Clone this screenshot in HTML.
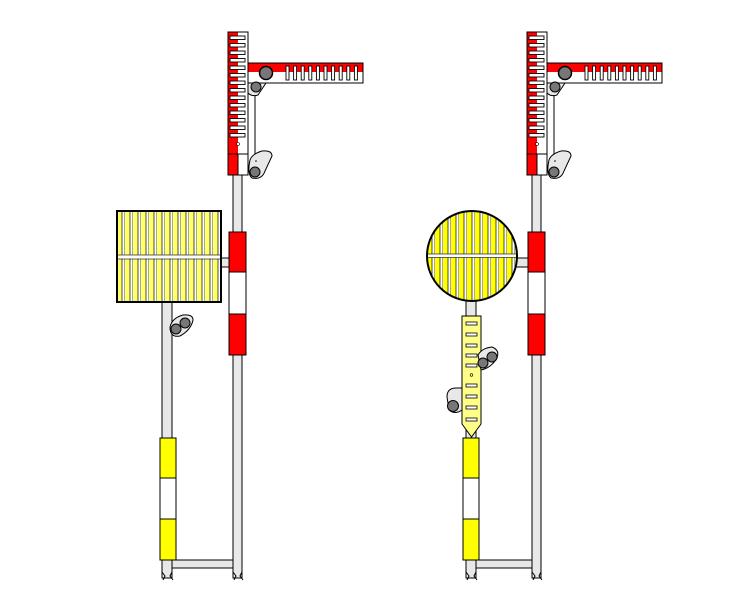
<!DOCTYPE html>
<html><head><meta charset="utf-8"><style>body{margin:0;background:#fff}svg{display:block}</style></head>
<body>
<svg width="750" height="591" viewBox="0 0 750 591" xmlns="http://www.w3.org/2000/svg">
<defs>
<pattern id="ystripe" x="117" y="0" width="8" height="10" patternUnits="userSpaceOnUse">
<rect x="0" y="0" width="8" height="10" fill="#ffff66"/>
<rect x="5" y="0" width="3" height="10" fill="#fff"/>
<line x1="5" y1="0" x2="5" y2="10" stroke="#000" stroke-width="0.7"/>
<line x1="8" y1="0" x2="8" y2="10" stroke="#000" stroke-width="0.7"/>
</pattern>
<pattern id="ystripe2" x="427" y="0" width="8" height="10" patternUnits="userSpaceOnUse">
<rect x="0" y="0" width="8" height="10" fill="#ffff00"/>
<rect x="5" y="0" width="3" height="10" fill="#fff"/>
<line x1="5" y1="0" x2="5" y2="10" stroke="#000" stroke-width="0.7"/>
<line x1="8" y1="0" x2="8" y2="10" stroke="#000" stroke-width="0.7"/>
</pattern>
<clipPath id="circ"><circle cx="472" cy="256" r="45"/></clipPath>
<g id="top">
<rect x="233" y="175" width="9" height="403" fill="#e8e8e8" stroke="#000"/>
<path d="M233 572 l3 4 -2 4 M242 572 l-2 4 3 4" stroke="#000" fill="none"/>
<rect x="228" y="32" width="20" height="143" fill="#fff" stroke="#000"/>
<rect x="228" y="32" width="10" height="143" fill="#f00"/>
<rect x="228" y="32" width="20" height="143" fill="none" stroke="#000"/>
<g fill="#fff" stroke="#000" stroke-width="0.9">
<rect x="230" y="36" width="15" height="3.5"/><rect x="230" y="43.5" width="15" height="3.5"/>
<rect x="230" y="51" width="15" height="3.5"/><rect x="230" y="58.5" width="15" height="3.5"/>
<rect x="230" y="66" width="15" height="3.5"/><rect x="230" y="73.5" width="15" height="3.5"/>
<rect x="230" y="81" width="15" height="3.5"/><rect x="230" y="88.5" width="15" height="3.5"/>
<rect x="230" y="96" width="15" height="3.5"/><rect x="230" y="103.5" width="15" height="3.5"/>
<rect x="230" y="111" width="15" height="3.5"/><rect x="230" y="118.5" width="15" height="3.5"/>
<rect x="230" y="126" width="15" height="3.5"/><rect x="230" y="133.5" width="15" height="3.5"/>
</g>
<line x1="228" y1="154" x2="248" y2="154" stroke="#000"/>
<line x1="238" y1="154" x2="238" y2="175" stroke="#000"/>
<circle cx="238" cy="144" r="1.5" fill="#fff" stroke="#000" stroke-width="0.6"/>
<line x1="255" y1="90" x2="255" y2="155" stroke="#000"/>
<rect x="248" y="63" width="115" height="20" fill="#fff" stroke="#000"/>
<rect x="248" y="63" width="115" height="9" fill="#f00"/>
<rect x="248" y="63" width="115" height="20" fill="none" stroke="#000"/>
<g fill="#fff" stroke="#000" stroke-width="0.9">
<rect x="286" y="66" width="3" height="14"/><rect x="293.6" y="66" width="3" height="14"/>
<rect x="301.2" y="66" width="3" height="14"/><rect x="308.8" y="66" width="3" height="14"/>
<rect x="316.4" y="66" width="3" height="14"/><rect x="324" y="66" width="3" height="14"/>
<rect x="331.6" y="66" width="3" height="14"/><rect x="339.2" y="66" width="3" height="14"/>
<rect x="346.8" y="66" width="3" height="14"/><rect x="354.4" y="66" width="3" height="14"/>
</g>
<path d="M248 83 L248 93 Q252 97 258 95 L266 83 Z" fill="#e8e8e8" stroke="#000"/>
<circle cx="256" cy="87" r="5" fill="#777" stroke="#000"/>
<circle cx="266" cy="73" r="6.5" fill="#777" stroke="#000" stroke-width="1.5"/>
<path d="M250 160 Q252 154 262 151 Q272 150 272 156 L265 171 Q262 180 252 178 Q247 174 250 160 Z" fill="#e8e8e8" stroke="#000"/>
<circle cx="255" cy="172" r="5" fill="#777" stroke="#000"/>
<circle cx="256" cy="161" r="0.8" fill="#000"/>
<rect x="229" y="232" width="17" height="123" fill="#fff" stroke="#000"/>
<rect x="229" y="232" width="17" height="40" fill="#f00" stroke="#000"/>
<rect x="229" y="314" width="17" height="41" fill="#f00" stroke="#000"/>
</g>
</defs>

<rect x="162" y="300" width="10" height="278" fill="#e8e8e8" stroke="#000"/>
<path d="M162 572 l3 4 -2 4 M172 572 l-2 4 3 4" stroke="#000" fill="none"/>
<rect x="172" y="560" width="61" height="8" fill="#e8e8e8" stroke="#000"/>
<rect x="220" y="258" width="10" height="9" fill="#e8e8e8" stroke="#000"/>
<use href="#top"/>
<rect x="117" y="211" width="104" height="91" fill="url(#ystripe)"/>
<rect x="117" y="255" width="104" height="4" fill="#fff" stroke="#000" stroke-width="0.6"/>
<rect x="117" y="211" width="104" height="91" fill="none" stroke="#000" stroke-width="2"/>
<path d="M170 327 Q172 318 183 315 Q193 314 193 320 Q191 330 180 336 Q170 338 170 327Z" fill="#e8e8e8" stroke="#000"/>
<circle cx="176" cy="329" r="5" fill="#777" stroke="#000"/>
<circle cx="185" cy="323" r="5" fill="#777" stroke="#000"/>
<rect x="160" y="438" width="16" height="122" fill="#fff" stroke="#000"/>
<rect x="160" y="438" width="16" height="40" fill="#ff0" stroke="#000"/>
<rect x="160" y="519" width="16" height="41" fill="#ff0" stroke="#000"/>

<rect x="466" y="300" width="10" height="278" fill="#e8e8e8" stroke="#000"/>
<path d="M466 572 l3 4 -2 4 M476 572 l-2 4 3 4" stroke="#000" fill="none"/>
<rect x="476" y="560" width="56" height="8" fill="#e8e8e8" stroke="#000"/>
<rect x="516" y="258" width="14" height="9" fill="#e8e8e8" stroke="#000"/>
<use href="#top" transform="translate(299,0)"/>
<g clip-path="url(#circ)">
<rect x="427" y="211" width="90" height="90" fill="url(#ystripe2)"/>
<rect x="427" y="254" width="90" height="3.5" fill="#fff" stroke="#000" stroke-width="0.6"/>
</g>
<circle cx="472" cy="256" r="45" fill="none" stroke="#000" stroke-width="2"/>
<path d="M462 316 L481 316 L481 424 L471.5 437 L462 424 Z" fill="#ffff88" stroke="#000"/>
<g fill="#fff" stroke="#000" stroke-width="0.8">
<rect x="466" y="322" width="11" height="3"/><rect x="466" y="333" width="11" height="3"/>
<rect x="466" y="344" width="11" height="3"/><rect x="466" y="354" width="11" height="3"/>
<rect x="466" y="364" width="11" height="3"/><rect x="466" y="384" width="11" height="3"/>
<rect x="466" y="395" width="11" height="3"/><rect x="466" y="406" width="11" height="3"/>
<rect x="466" y="418" width="11" height="3"/>
</g>
<circle cx="471.5" cy="375" r="1.3" fill="none" stroke="#000" stroke-width="0.6"/>
<path d="M478 355 Q482 348 492 347 Q500 350 497 358 Q491 368 481 370 Z" fill="#e8e8e8" stroke="#000"/>
<circle cx="483" cy="363" r="5" fill="#777" stroke="#000"/>
<circle cx="492" cy="357" r="5" fill="#777" stroke="#000"/>
<path d="M447 397 Q447 388 456 388 L462 388 L462 410 Q455 415 449 410 Z" fill="#e8e8e8" stroke="#000"/>
<circle cx="453" cy="406" r="5.5" fill="#777" stroke="#000"/>
<rect x="463" y="438" width="16" height="122" fill="#fff" stroke="#000"/>
<rect x="463" y="438" width="16" height="40" fill="#ff0" stroke="#000"/>
<rect x="463" y="519" width="16" height="41" fill="#ff0" stroke="#000"/>
</svg>
</body></html>
